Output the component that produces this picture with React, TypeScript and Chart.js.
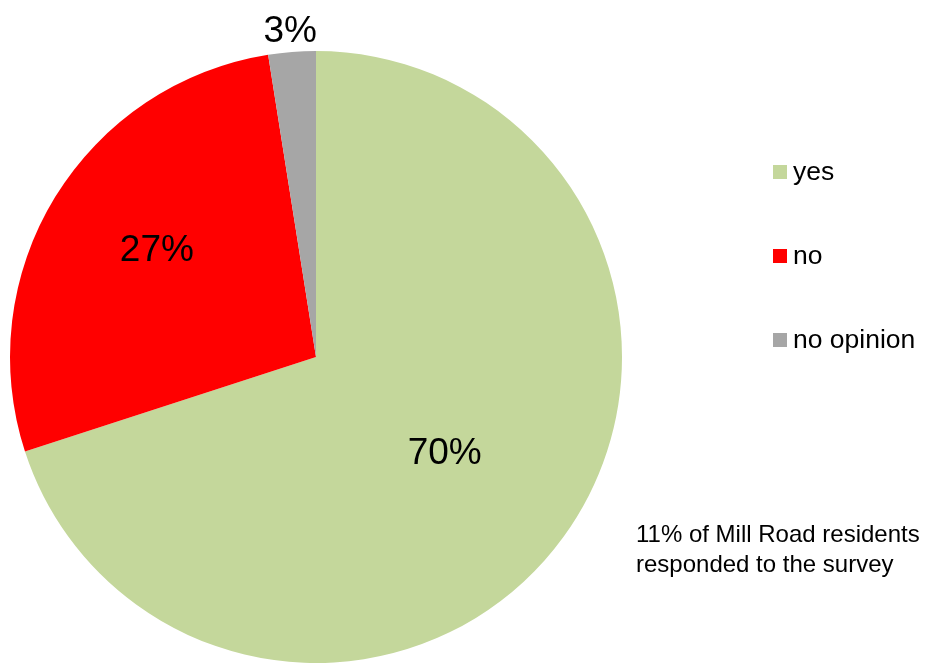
import React, { useEffect, useRef } from "react";
import { Chart, registerables } from "chart.js";

Chart.register(...registerables);

const categories = ["yes", "no", "no opinion"];
const values = [70, 27.5, 2.5];
const colors = ["#C4D79B", "#FF0000", "#A6A6A6"];
const percentLabels = ["70%", "27%", "3%"];
const noteLines = ["11% of Mill Road residents", "responded to the survey"];

const FONT = "'Liberation Sans', Arial, sans-serif";

const overlayPlugin = {
  id: "overlay",
  afterDatasetsDraw(chart: any) {
    const ctx = chart.ctx;
    const meta = chart.getDatasetMeta(0);
    ctx.save();
    ctx.fillStyle = "#000";
    ctx.textAlign = "center";
    ctx.textBaseline = "middle";
    ctx.font = `37px ${FONT}`;
    meta.data.forEach((arc: any, i: number) => {
      const p = arc.getProps(["x", "y", "startAngle", "endAngle", "outerRadius"], true);
      const mid = (p.startAngle + p.endAngle) / 2;
      let r: number;
      let da = 0;
      if (i === 2) r = p.outerRadius + 23;
      else if (i === 0) r = p.outerRadius * 0.52;
      else {
        r = p.outerRadius * 0.63;
        da = 0.05;
      }
      const x = p.x + Math.cos(mid + da) * r;
      const y = p.y + Math.sin(mid + da) * r + 3;
      ctx.fillText(percentLabels[i], x, y);
    });

    // legend
    ctx.textAlign = "left";
    ctx.font = `26.5px ${FONT}`;
    const legendX = 773;
    const legendY = [172, 256, 340];
    categories.forEach((c, i) => {
      ctx.fillStyle = colors[i];
      ctx.fillRect(legendX, legendY[i] - 7, 14, 14);
      ctx.fillStyle = "#000";
      ctx.fillText(c, legendX + 20, legendY[i] + 1);
    });

    // note
    ctx.font = `24px ${FONT}`;
    noteLines.forEach((t, i) => {
      ctx.fillText(t, 636, 535 + i * 30);
    });
    ctx.restore();
  },
};

export default function App() {
  const ref = useRef<HTMLCanvasElement>(null);
  useEffect(() => {
    if (!ref.current) return;
    const chart = new Chart(ref.current, {
      type: "pie",
      data: {
        labels: categories,
        datasets: [
          {
            data: values,
            backgroundColor: colors,
            borderWidth: 0,
          },
        ],
      },
      options: {
        animation: false,
        responsive: false,
        maintainAspectRatio: false,
        layout: { padding: { left: 10, right: 303, top: 51, bottom: 1 } },
        plugins: {
          legend: { display: false },
          tooltip: { enabled: false },
        },
      },
      plugins: [overlayPlugin],
    });
    return () => chart.destroy();
  }, []);
  return (
    <canvas
      ref={ref}
      width={925}
      height={664}
      style={{ position: "absolute", left: 0, top: 0, width: 925, height: 664 }}
    />
  );
}
